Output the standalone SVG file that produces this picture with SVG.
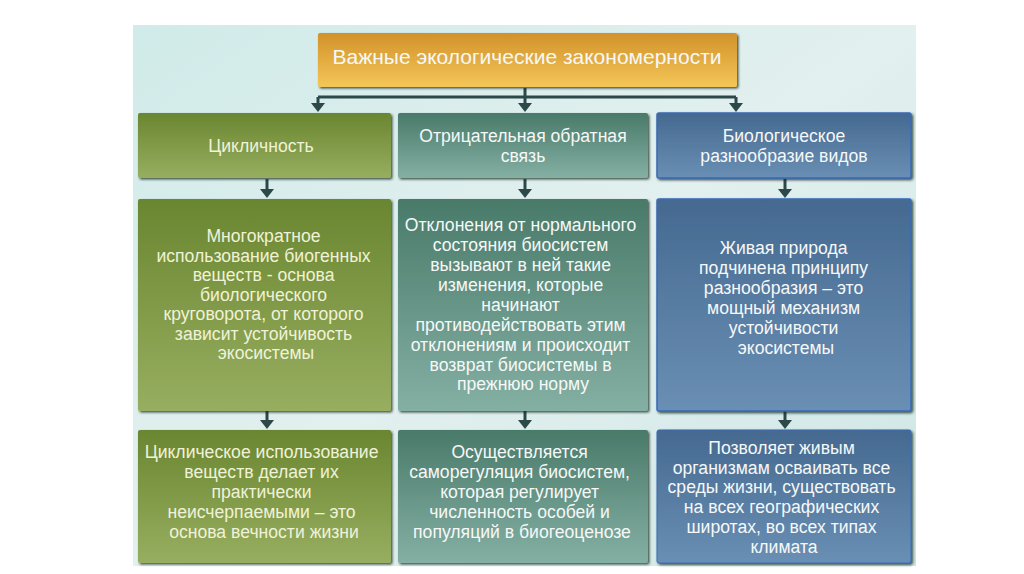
<svg xmlns="http://www.w3.org/2000/svg" width="1024" height="574" viewBox="0 0 1024 574">
<defs>
<linearGradient id="bg" x1="0" y1="0" x2="1" y2="1">
<stop offset="0" stop-color="#d0ebe9"/><stop offset="0.5" stop-color="#e2f0ef"/><stop offset="1" stop-color="#cde6e5"/>
</linearGradient>
<linearGradient id="gold" x1="0" y1="0" x2="0" y2="1">
<stop offset="0" stop-color="#d2922a"/><stop offset="1" stop-color="#f4c658"/>
</linearGradient>
<linearGradient id="green" x1="0" y1="0" x2="0" y2="1">
<stop offset="0" stop-color="#6a8630"/><stop offset="1" stop-color="#97ae60"/>
</linearGradient>
<linearGradient id="teal" x1="0" y1="0" x2="0" y2="1">
<stop offset="0" stop-color="#497a69"/><stop offset="1" stop-color="#84b0a4"/>
</linearGradient>
<linearGradient id="blue" x1="0" y1="0" x2="0" y2="1">
<stop offset="0" stop-color="#456990"/><stop offset="1" stop-color="#6a8fb4"/>
</linearGradient>
<path id="arr" d="M-7,-9 L7,-9 L0,0 Z" fill="#2c4848"/>
<filter id="sh" x="-5%" y="-5%" width="110%" height="115%">
<feDropShadow dx="1.5" dy="1.5" stdDeviation="0.8" flood-color="#1e2a20" flood-opacity="0.8"/>
</filter>
</defs>
<style>
text{font-family:"Liberation Sans",Arial,sans-serif;text-anchor:middle}
.t1{font-size:17.6px}
.t2{font-size:17.6px}
.t3{font-size:17.6px}
.g{fill:#f0f2d8}
.w{fill:#f6f8f8}
.con{stroke:#2c4848;stroke-width:3;fill:none}
</style>
<rect x="0" y="0" width="1024" height="574" fill="#ffffff"/>
<rect x="133" y="25" width="783" height="541" fill="url(#bg)"/>

<g id="connectors">
<path class="con" d="M525,88 V97"/>
<path class="con" d="M318,97 H736"/>
<path class="con" d="M318,97 V104"/>
<path class="con" d="M525,97 V104"/>
<path class="con" d="M736,97 V104"/>
<use href="#arr" x="318" y="112"/>
<use href="#arr" x="525" y="112"/>
<use href="#arr" x="736" y="112"/>
<path class="con" d="M267,179 V190"/>
<path class="con" d="M525,179 V190"/>
<path class="con" d="M785,179 V190"/>
<use href="#arr" x="267" y="198"/>
<use href="#arr" x="525" y="198"/>
<use href="#arr" x="785" y="198"/>
<path class="con" d="M267,411 V421"/>
<path class="con" d="M525,411 V421"/>
<path class="con" d="M785,411 V421"/>
<use href="#arr" x="267" y="429"/>
<use href="#arr" x="525" y="429"/>
<use href="#arr" x="785" y="429"/>
</g>

<g id="header">
<rect x="318" y="33" width="419" height="54" rx="2" fill="url(#gold)" filter="url(#sh)"/>
<text x="527" y="64" style="font-size:21px" class="w">Важные экологические закономерности</text>
</g>

<g id="n1">
<rect x="138" y="113" width="253" height="65" rx="2" fill="url(#green)" filter="url(#sh)"/>
<text x="261" y="152" class="t1 g">Цикличность</text>
</g>
<g id="n2">
<rect x="398" y="113" width="250" height="65" rx="2" fill="url(#teal)" filter="url(#sh)"/>
<text x="523" y="142" class="t1 w">Отрицательная обратная</text>
<text x="523" y="162" class="t1 w">связь</text>
</g>
<g id="n3">
<rect x="657" y="113" width="254" height="65" rx="2" fill="url(#blue)" stroke="#3a6ab8" stroke-width="1.5" filter="url(#sh)"/>
<text x="784" y="142" class="t1 w">Биологическое</text>
<text x="784" y="162" class="t1 w">разнообразие видов</text>
</g>

<g id="n4">
<rect x="138" y="199" width="253" height="212" rx="2" fill="url(#green)" filter="url(#sh)"/>
<text class="t2 g">
<tspan x="266" y="242">Многократное</tspan>
<tspan x="266" y="261.5">использование биогенных</tspan>
<tspan x="266" y="281">веществ - основа</tspan>
<tspan x="266" y="300.5">биологического</tspan>
<tspan x="266" y="320">круговорота, от которого</tspan>
<tspan x="266" y="339.5">зависит устойчивость</tspan>
<tspan x="266" y="359">экосистемы</tspan>
</text>
</g>
<g id="n5">
<rect x="398" y="199" width="250" height="212" rx="2" fill="url(#teal)" filter="url(#sh)"/>
<text class="t2 w">
<tspan x="523" y="231">Отклонения от нормального</tspan>
<tspan x="523" y="251">состояния биосистем</tspan>
<tspan x="523" y="271">вызывают в ней такие</tspan>
<tspan x="523" y="291">изменения, которые</tspan>
<tspan x="523" y="310.5">начинают</tspan>
<tspan x="523" y="330.5">противодействовать этим</tspan>
<tspan x="523" y="350.5">отклонениям и происходит</tspan>
<tspan x="523" y="370.5">возврат биосистемы в</tspan>
<tspan x="523" y="390">прежнюю норму</tspan>
</text>
</g>
<g id="n6">
<rect x="657" y="199" width="254" height="212" rx="2" fill="url(#blue)" stroke="#3a6ab8" stroke-width="1.5" filter="url(#sh)"/>
<text class="t2 w">
<tspan x="786" y="254">Живая природа</tspan>
<tspan x="786" y="274">подчинена принципу</tspan>
<tspan x="786" y="294">разнообразия – это</tspan>
<tspan x="786" y="314">мощный механизм</tspan>
<tspan x="786" y="334">устойчивости</tspan>
<tspan x="786" y="354">экосистемы</tspan>
</text>
</g>

<g id="n7">
<rect x="138" y="430" width="253" height="133" rx="2" fill="url(#green)" filter="url(#sh)"/>
<text class="t3 g">
<tspan x="264" y="458">Циклическое использование</tspan>
<tspan x="264" y="478">веществ делает их</tspan>
<tspan x="264" y="498">практически</tspan>
<tspan x="264" y="517.5">неисчерпаемыми – это</tspan>
<tspan x="264" y="537.5">основа вечности жизни</tspan>
</text>
</g>
<g id="n8">
<rect x="398" y="430" width="250" height="133" rx="2" fill="url(#teal)" filter="url(#sh)"/>
<text class="t3 w">
<tspan x="522" y="458">Осуществляется</tspan>
<tspan x="522" y="478">саморегуляция биосистем,</tspan>
<tspan x="522" y="498">которая регулирует</tspan>
<tspan x="522" y="517.5">численность особей и</tspan>
<tspan x="522" y="537.5">популяций в биогеоценозе</tspan>
</text>
</g>
<g id="n9">
<rect x="657" y="430" width="254" height="133" rx="2" fill="url(#blue)" stroke="#3a6ab8" stroke-width="1" filter="url(#sh)"/>
<text class="t3 w">
<tspan x="784" y="454">Позволяет живым</tspan>
<tspan x="784" y="473.5">организмам осваивать все</tspan>
<tspan x="784" y="493">среды жизни, существовать</tspan>
<tspan x="784" y="513">на всех географических</tspan>
<tspan x="784" y="533">широтах, во всех типах</tspan>
<tspan x="784" y="553">климата</tspan>
</text>
</g>
</svg>
